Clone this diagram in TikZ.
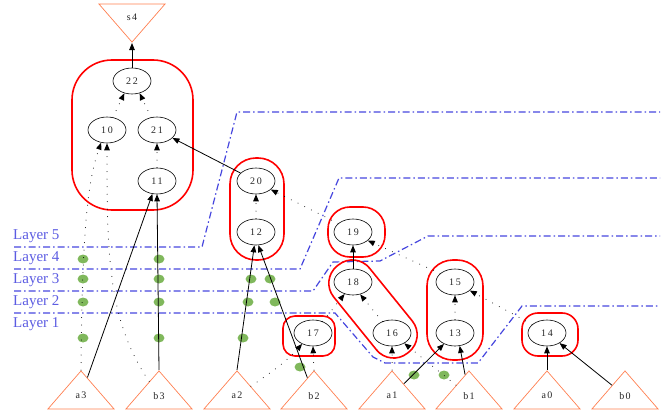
\documentclass[tikz,border=0pt]{standalone}
\usepackage{fontspec}
\setmainfont{Liberation Serif}
\usetikzlibrary{arrows.meta, shapes, positioning}
\definecolor{coral}{RGB}{255,127,80}
\definecolor{layerblue}{RGB}{70,70,222}
\definecolor{layertext}{RGB}{92,92,226}
\definecolor{virtgreen}{RGB}{128,184,92}
\tikzset{opnode/.style={ellipse, draw=black, line width=0.6pt, minimum width=38pt, minimum height=26pt, inner sep=0pt, text=black!85, font=\fontsize{10}{11}\selectfont\addfontfeature{LetterSpace=18}},leafnode/.style={isosceles triangle, isosceles triangle stretches, shape border rotate=90, draw=coral, line width=0.7pt, minimum width=66pt, minimum height=38pt, inner sep=0pt, text=black!85, font=\fontsize{10}{11}\selectfont\addfontfeature{LetterSpace=12}}}
\tikzset{rootnode/.style={leafnode, shape border rotate=-90},virtnode/.style={ellipse, fill=virtgreen, minimum width=11pt, minimum height=9pt, inner sep=0pt}}

\begin{document}
\begin{tikzpicture}[
        x=1pt, y=-1pt,
        solidedge/.style={-{Triangle[length=7pt, width=5.5pt]}, line width=0.8pt},
        dotedge/.style={-{Triangle[length=7pt, width=5.5pt]}, line width=1pt, line cap=round, dash pattern=on 0pt off 7.5pt},
        clusterbox/.style={draw=red, line width=1.6pt},
        layerline/.style={layerblue, line width=1.2pt, dash pattern=on 7pt off 3pt on 1.5pt off 3pt},
        layerlabel/.style={anchor=west, text=layertext, inner sep=0pt, font=\fontsize{15}{16}\selectfont},
    ]
        \useasboundingbox (0,0) rectangle (665,415);
        % Layers
        \draw[layerline] (14,247) -- (202,247) -- (237,112) -- (660,112);
        \draw[layerline] (14,269) -- (300,269) -- (339,178) -- (660,178);
        \draw[layerline] (14,291) -- (313,291) -- (333,262) -- (380,261) -- (428,236) -- (660,236);
        \draw[layerline] (14,313) -- (335,313) -- (373,357) -- (385,363) -- (478,363) -- (522,306) -- (660,306);
        \node[layerlabel] (lay5) at (13,236) {Layer 5};
        \node[layerlabel] (lay4) at (13,258) {Layer 4};
        \node[layerlabel] (lay3) at (13,280) {Layer 3};
        \node[layerlabel] (lay2) at (13,302) {Layer 2};
        \node[layerlabel] (lay1) at (13,324) {Layer 1};
        % Clusters
        \draw[clusterbox, rounded corners=40pt] (72,60) rectangle (193,210);
        \draw[clusterbox, rounded corners=26pt] (230,158) rectangle (284,260);
        \draw[clusterbox, rounded corners=12pt] (283,316) rectangle (335,356);
        \draw[clusterbox, rounded corners=22pt] (328,207) rectangle (385,257);
        \draw[clusterbox, rounded corners=26pt] (427,260) rectangle (483,360);
        \draw[clusterbox, rounded corners=16pt] (522,313) rectangle (578,356);
        \node[clusterbox, rounded corners=22pt, rotate=-51, minimum width=112pt, minimum height=46pt] (c18) at (373,309) {};
        % Operator nodes
        \node[opnode] (n22) at (132,81) {22};
        \node[opnode] (n10) at (107,130) {10};
        \node[opnode] (n21) at (157,130) {21};
        \node[opnode] (n11) at (157,181) {11};
        \node[opnode] (n20) at (256,181) {20};
        \node[opnode] (n12) at (256,232) {12};
        \node[opnode] (n17) at (313,333) {17};
        \node[opnode] (n19) at (353,232) {19};
        \node[opnode] (n18) at (353,282) {18};
        \node[opnode] (n16) at (392,333) {16};
        \node[opnode] (n15) at (455,282) {15};
        \node[opnode] (n13) at (455,333) {13};
        \node[opnode] (n14) at (547,333) {14};
        % Leaves
        \node[rootnode, anchor=apex] (s4) at (132,43) {s4};
        \node[leafnode, anchor=apex] (a3) at (81,370) {a3};
        \node[leafnode, anchor=apex] (b3) at (159,370) {b3};
        \node[leafnode, anchor=apex] (a2) at (237,370) {a2};
        \node[leafnode, anchor=apex] (b2) at (314,370) {b2};
        \node[leafnode, anchor=apex] (a1) at (392,370) {a1};
        \node[leafnode, anchor=apex] (b1) at (469,370) {b1};
        \node[leafnode, anchor=apex] (a0) at (547,370) {a0};
        \node[leafnode, anchor=apex] (b0) at (625,370) {b0};
        % Virtual nodes
        \foreach \x/\y in {83/259, 83/279, 83/302, 83/338, 159/259, 159/279, 159/302, 159/338,
            251/279, 270/279, 248/302, 275/302, 243/338, 300/367, 414/375, 444/375} {
            \node[virtnode] (v\x-\y) at (\x,\y) {};
        }
        % Solid edges
        \draw[solidedge] (n22) -- (s4.apex);
        \draw[solidedge] (a3) -- (n11);
        \draw[solidedge] (b3.apex) -- (n11.south);
        \draw[solidedge] (n20) -- (n21);
        \draw[solidedge] (a2.apex) -- (n12.263);
        \draw[solidedge] (b2) -- (n12.280);
        \draw[solidedge] (n18) -- (n19);
        \draw[solidedge] (a1) -- (n13);
        \draw[solidedge] (b1) -- (n13.290);
        \draw[solidedge] (a0.apex) -- (n14.south);
        \draw[solidedge] (b0) -- (n14);
        % Dotted edges
        \draw[dotedge] (n10) -- (n22.238);
        \draw[dotedge] (n21) -- (n22.302);
        \draw[dotedge] (n11) -- (n21);
        \draw[dotedge] (a3.apex) .. controls (82,230) and (88,180) .. (n10.245);
        \draw[dotedge] (b3) .. controls (107,320) and (107,250) .. (n10.south);
        \draw[dotedge] (n12) -- (n20);
        \draw[dotedge] (n19.150) -- (n20.-30);
        \draw[dotedge] (n15.150) -- (n19.-30);
        \draw[dotedge] (n14.150) -- (n15.-30);
        \draw[dotedge] (n13) -- (n15);
        \draw[dotedge] (n16.130) -- (n18.-60);
        \draw[dotedge] (n17.50) -- (n18.235);
        \draw[dotedge] (a2) .. controls (272,372) and (288,360) .. (n17.225);
        \draw[dotedge] (b2.apex) -- (n17.south);
        \draw[dotedge] (a1.apex) -- (n16.south);
        \draw[dotedge] (b1) -- (n16.-40);
    \end{tikzpicture}
\end{document}
